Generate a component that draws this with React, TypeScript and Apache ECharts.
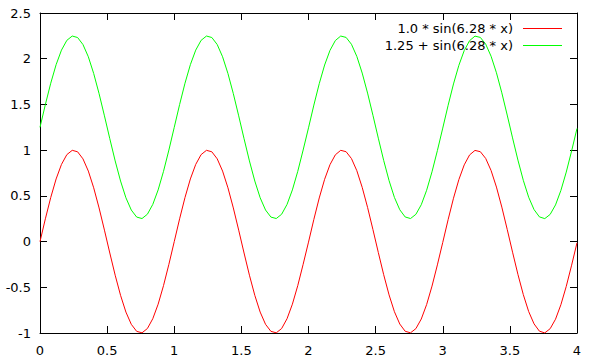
import React, { useEffect, useRef } from "react";
import * as echarts from "echarts";

const seriesNames = ["1.0 * sin(6.28 * x)", "1.25 + sin(6.28 * x)"];
const seriesColors = ["#ff0000", "#00ff00"];

const xValues = [
  0, 0.04, 0.08, 0.12, 0.16, 0.2, 0.24, 0.28, 0.32, 0.36, 0.4, 0.44, 0.48, 0.52, 0.56, 0.6, 0.64, 0.68, 0.72, 0.76, 0.8, 0.84, 0.88, 0.92, 0.96,
  1, 1.04, 1.08, 1.12, 1.16, 1.2, 1.24, 1.28, 1.32, 1.36, 1.4, 1.44, 1.48, 1.52, 1.56, 1.6, 1.64, 1.68, 1.72, 1.76, 1.8, 1.84, 1.88, 1.92, 1.96,
  2, 2.04, 2.08, 2.12, 2.16, 2.2, 2.24, 2.28, 2.32, 2.36, 2.4, 2.44, 2.48, 2.52, 2.56, 2.6, 2.64, 2.68, 2.72, 2.76, 2.8, 2.84, 2.88, 2.92, 2.96,
  3, 3.04, 3.08, 3.12, 3.16, 3.2, 3.24, 3.28, 3.32, 3.36, 3.4, 3.44, 3.48, 3.52, 3.56, 3.6, 3.64, 3.68, 3.72, 3.76, 3.8, 3.84, 3.88, 3.92, 3.96,
  4,
];

const sineValues = [
  0, 0.249, 0.482, 0.685, 0.844, 0.951, 0.998, 0.982, 0.905, 0.771, 0.588, 0.368, 0.125, -0.125, -0.368, -0.588, -0.771, -0.905, -0.982, -0.998, -0.951, -0.844, -0.685, -0.482, -0.249,
  0, 0.249, 0.482, 0.685, 0.844, 0.951, 0.998, 0.982, 0.905, 0.771, 0.588, 0.368, 0.125, -0.125, -0.368, -0.588, -0.771, -0.905, -0.982, -0.998, -0.951, -0.844, -0.685, -0.482, -0.249,
  -0.006, 0.243, 0.477, 0.681, 0.841, 0.949, 0.998, 0.983, 0.908, 0.775, 0.593, 0.374, 0.131, -0.119, -0.362, -0.583, -0.767, -0.902, -0.981, -0.998, -0.952, -0.847, -0.689, -0.487, -0.255,
  -0.009, 0.240, 0.474, 0.678, 0.839, 0.948, 0.997, 0.983, 0.909, 0.777, 0.596, 0.377, 0.134, -0.116, -0.359, -0.580, -0.765, -0.900, -0.980, -0.999, -0.953, -0.849, -0.691, -0.490, -0.258,
  -0.013,
];

const shiftedValues = [
  1.25, 1.499, 1.732, 1.935, 2.094, 2.201, 2.248, 2.232, 2.155, 2.021, 1.838, 1.618, 1.375, 1.125, 0.882, 0.662, 0.479, 0.345, 0.268, 0.252, 0.299, 0.406, 0.565, 0.768, 1.001,
  1.25, 1.499, 1.732, 1.935, 2.094, 2.201, 2.248, 2.232, 2.155, 2.021, 1.838, 1.618, 1.375, 1.125, 0.882, 0.662, 0.479, 0.345, 0.268, 0.252, 0.299, 0.406, 0.565, 0.768, 1.001,
  1.244, 1.493, 1.727, 1.931, 2.091, 2.199, 2.248, 2.233, 2.158, 2.025, 1.843, 1.624, 1.381, 1.131, 0.888, 0.667, 0.483, 0.348, 0.269, 0.252, 0.298, 0.403, 0.561, 0.763, 0.995,
  1.241, 1.49, 1.724, 1.928, 2.089, 2.198, 2.247, 2.233, 2.159, 2.027, 1.846, 1.627, 1.384, 1.134, 0.891, 0.67, 0.485, 0.35, 0.27, 0.251, 0.297, 0.401, 0.559, 0.76, 0.992,
  1.237,
];

const xTicks = { min: 0, max: 4, interval: 0.5 };
const yTicks = { min: -1, max: 2.5, interval: 0.5 };

const FONT = "DejaVu Sans";

export default function App() {
  const ref = useRef<HTMLDivElement>(null);

  useEffect(() => {
    if (!ref.current) return;
    const chart = echarts.init(ref.current, null, { renderer: "svg" });
    const axisCommon = {
      type: "value" as const,
      axisLine: { show: true, onZero: false, lineStyle: { color: "#000", width: 1 } },
      axisTick: { show: true, inside: true, length: 7, lineStyle: { color: "#000", width: 1 } },
      splitLine: { show: false },
    };
    const labelStyle = { color: "#000", fontSize: 13, fontFamily: FONT };
    const seriesData = [sineValues, shiftedValues];
    chart.setOption({
      animation: false,
      backgroundColor: "#fff",
      grid: { left: 40, right: 19, top: 13, bottom: 30 },
      legend: {
        orient: "vertical",
        right: 34,
        top: 21,
        padding: 0,
        align: "right",
        icon: "rect",
        itemWidth: 39,
        itemHeight: 1,
        itemGap: 2,
        selectedMode: false,
        textStyle: { color: "#000", fontSize: 13, fontFamily: FONT, lineHeight: 15, padding: [0, 5, 0, 0] },
        data: seriesNames,
      },
      xAxis: [
        { ...axisCommon, position: "bottom", ...xTicks, axisLabel: { ...labelStyle, margin: 11 } },
        { ...axisCommon, position: "top", ...xTicks, axisLabel: { show: false } },
      ],
      yAxis: [
        { ...axisCommon, position: "left", ...yTicks, axisLabel: { ...labelStyle, margin: 9 } },
        { ...axisCommon, position: "right", ...yTicks, axisLabel: { show: false } },
      ],
      series: seriesNames.map((name, i) => ({
        name,
        type: "line",
        xAxisIndex: 0,
        yAxisIndex: 0,
        symbol: "none",
        showSymbol: false,
        color: seriesColors[i],
        lineStyle: { color: seriesColors[i], width: 1 },
        data: xValues.map((x, j) => [x, seriesData[i][j]]),
      })),
    });
    return () => chart.dispose();
  }, []);

  return (
    <div
      ref={ref}
      style={{ position: "fixed", left: 0, top: 0, width: 596, height: 363, background: "#fff" }}
    />
  );
}
